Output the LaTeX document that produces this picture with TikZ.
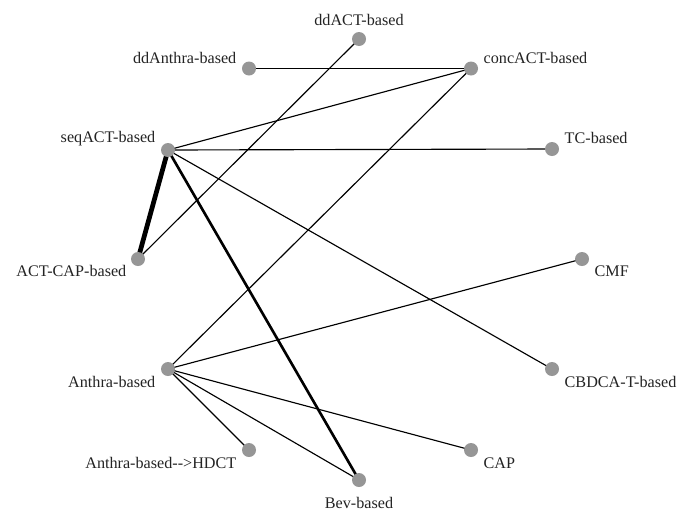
\documentclass[tikz,border=0pt]{standalone}
\usepackage{fontspec}
\setmainfont{Liberation Serif}
\usepackage{tikz}
\usetikzlibrary{positioning,backgrounds}

\definecolor{dotgray}{RGB}{150,150,150}
\definecolor{txtgray}{RGB}{35,35,35}

\tikzset{
  dot/.style={circle, fill=dotgray, inner sep=0pt, minimum size=0.28cm},
  lbl/.style={font=\fontsize{9.2}{11}\selectfont, text=txtgray, inner sep=0pt},
  thin link/.style={line width=0.65pt},
  mid link/.style={line width=1.5pt},
  thick link/.style={line width=2.7pt}
}

\begin{document}
\begin{tikzpicture}[x=0.02cm, y=0.02cm]
            \useasboundingbox (0,0) rectangle (685,-511);

            % treatments
            \node[dot] (ddact)   at (359,-39) {};
            \node[dot] (ddanth)  at (249,-68.5) {};
            \node[dot] (concact) at (471,-68.5) {};
            \node[dot] (seqact)  at (168,-150) {};
            \node[dot] (tc)      at (552,-149) {};
            \node[dot] (actcap)  at (138,-259) {};
            \node[dot] (cmf)     at (582,-259) {};
            \node[dot] (anth)    at (168,-369) {};
            \node[dot] (cbdca)   at (552,-369) {};
            \node[dot] (hdct)    at (249,-450) {};
            \node[dot] (cap)     at (471,-450) {};
            \node[dot] (bev)     at (359,-480) {};

            \node[lbl, above=0.12cm of ddact] (ddactlbl) {ddACT-based};
            \node[lbl, left=0.1cm of ddanth, yshift=0.22cm] (ddanthlbl) {ddAnthra-based};
            \node[lbl, right=0.1cm of concact, yshift=0.22cm] (concactlbl) {concACT-based};
            \node[lbl, left=0.1cm of seqact, yshift=0.23cm] (seqactlbl) {seqACT-based};
            \node[lbl, right=0.1cm of tc, yshift=0.22cm] (tclbl) {TC-based};
            \node[lbl, left=0.08cm of actcap, yshift=-0.24cm] (actcaplbl) {ACT-CAP-based};
            \node[lbl, right=0.1cm of cmf, yshift=-0.24cm] (cmflbl) {CMF};
            \node[lbl, left=0.1cm of anth, yshift=-0.26cm] (anthlbl) {Anthra-based};
            \node[lbl, right=0.1cm of cbdca, yshift=-0.26cm] (cbdcalbl) {CBDCA-T-based};
            \node[lbl, left=0.1cm of hdct, yshift=-0.26cm] (hdctlbl) {Anthra-based-{}->HDCT};
            \node[lbl, right=0.1cm of cap, yshift=-0.26cm] (caplbl) {CAP};
            \node[lbl, below=0.2cm of bev] (bevlbl) {Bev-based};

            % comparisons
            \begin{scope}[on background layer]
            \draw[thin link] (ddanth.center) -- (concact.center);
            \draw[thin link] (ddact.center) -- (actcap.center);
            \draw[thin link] (seqact.center) -- (concact.center);
            \draw[thin link] (seqact.center) -- (tc.center);
            \draw[thin link] (seqact.center) -- (cbdca.center);
            \draw[thick link] (seqact.center) -- (actcap.center);
            \draw[mid link] (seqact.center) -- (bev.center);
            \draw[thin link] (concact.center) -- (anth.center);
            \draw[thin link] (anth.center) -- (cmf.center);
            \draw[thin link] (anth.center) -- (hdct.center);
            \draw[thin link] (anth.center) -- (cap.center);
            \draw[thin link] (anth.center) -- (bev.center);
            \end{scope}
\end{tikzpicture}
\end{document}
